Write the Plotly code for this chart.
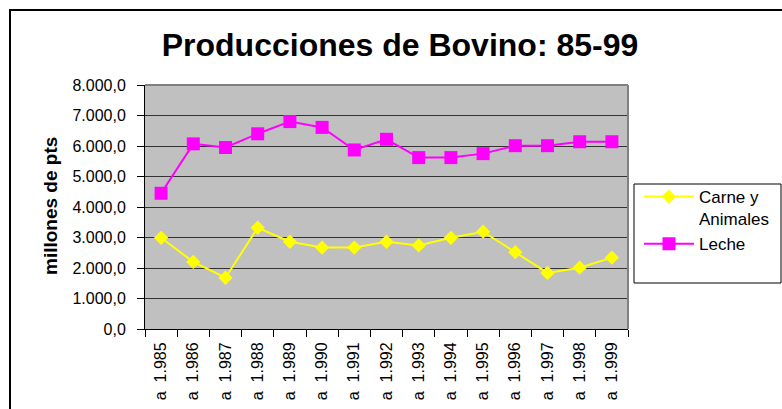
import plotly.graph_objects as go

years = ["a\u00a0\u00a01.985", "a\u00a0\u00a01.986", "a\u00a0\u00a01.987", "a\u00a0\u00a01.988",
         "a\u00a0\u00a01.989", "a\u00a0\u00a01.990", "a\u00a0\u00a01.991", "a\u00a0\u00a01.992",
         "a\u00a0\u00a01.993", "a\u00a0\u00a01.994", "a\u00a0\u00a01.995", "a\u00a0\u00a01.996",
         "a\u00a0\u00a01.997", "a\u00a0\u00a01.998", "a\u00a0\u00a01.999"]
carne = [2990, 2200, 1680, 3320, 2860, 2670, 2670, 2860, 2740, 2990, 3190, 2520, 1840, 2010, 2340]
leche = [4450, 6070, 5950, 6400, 6800, 6610, 5870, 6220, 5620, 5620, 5750, 6010, 6010, 6140, 6140]
y_ticks = [0, 1000, 2000, 3000, 4000, 5000, 6000, 7000, 8000]

FONT = "Arial, Liberation Sans, sans-serif"

fig = go.Figure()
fig.add_trace(go.Scatter(x=years, y=carne, mode="lines+markers", name="Carne y<br>Animales",
                         line=dict(color="#FFFF00", width=2),
                         marker=dict(symbol="diamond", size=11, color="#FFFF00")))
fig.add_trace(go.Scatter(x=years, y=leche, mode="lines+markers", name="Leche",
                         line=dict(color="#FF00FF", width=2),
                         marker=dict(symbol="square", size=13, color="#FF00FF")))

L, R, T, B = 145, 154, 85, 80
W, H = 782, 409
pw, ph = W - L - R, H - T - B

def px(x):
    return (x - L) / pw

def py(y):
    return 1 - (y - T) / ph

fig.update_layout(
    width=W, height=H, autosize=False,
    margin=dict(l=L, r=R, t=T, b=B, pad=0, autoexpand=False),
    paper_bgcolor="white", plot_bgcolor="#C0C0C0",
    separators=",.",
    font=dict(family=FONT, color="black"),
    title=dict(text="Producciones de Bovino: 85-99", x=400 / W, xref="container",
               xanchor="center", y=1 - 45 / H, yanchor="middle",
               font=dict(size=32, family=FONT, weight="bold", color="black")),
    showlegend=True,
    legend=dict(x=px(639), y=py(179), xanchor="left", yanchor="top",
                bgcolor="rgba(0,0,0,0)", borderwidth=0, valign="top", itemwidth=50,
                font=dict(size=17, family=FONT, color="black"), tracegroupgap=0),
    xaxis=dict(type="category", range=[-0.5, 14.5], tickson="boundaries", ticks="outside",
               ticklen=7, tickcolor="black", tickwidth=1, showline=True, linecolor="black",
               linewidth=1, showgrid=False, tickangle=-90, tickfont=dict(size=16, family=FONT),
               ticklabelstandoff=6, fixedrange=True, automargin=False),
    yaxis=dict(range=[0, 8000], tickvals=y_ticks, tickformat=",.1f", ticks="outside",
               ticklen=7, tickcolor="black", tickwidth=1, showline=True, linecolor="black",
               linewidth=1, showgrid=True, gridcolor="#333333", gridwidth=1, zeroline=False,
               tickfont=dict(size=16, family=FONT), ticklabelstandoff=8, automargin=False),
    shapes=[
        dict(type="line", xref="paper", yref="paper", x0=0, x1=1, y0=1, y1=1,
             line=dict(color="#808080", width=2)),
        dict(type="line", xref="paper", yref="paper", x0=1, x1=1, y0=0, y1=1,
             line=dict(color="#808080", width=2)),
        dict(type="rect", xref="paper", yref="paper", x0=px(634), x1=px(781), y0=py(283), y1=py(184),
             line=dict(color="black", width=1), fillcolor="rgba(0,0,0,0)"),
        dict(type="rect", xref="paper", yref="paper", x0=px(10), x1=px(800), y0=py(430), y1=py(10),
             line=dict(color="black", width=2), fillcolor="rgba(0,0,0,0)"),
    ],
    annotations=[
        dict(text="millones de pts", xref="paper", yref="paper", x=px(50), y=py(206),
             xanchor="center", yanchor="middle", textangle=-90, showarrow=False,
             font=dict(size=19, family=FONT, weight="bold", color="black")),
    ],
)

fig.write_html("out.html", config={"displayModeBar": False},
               post_script="document.body.style.margin='0';document.body.style.overflow='hidden';")
